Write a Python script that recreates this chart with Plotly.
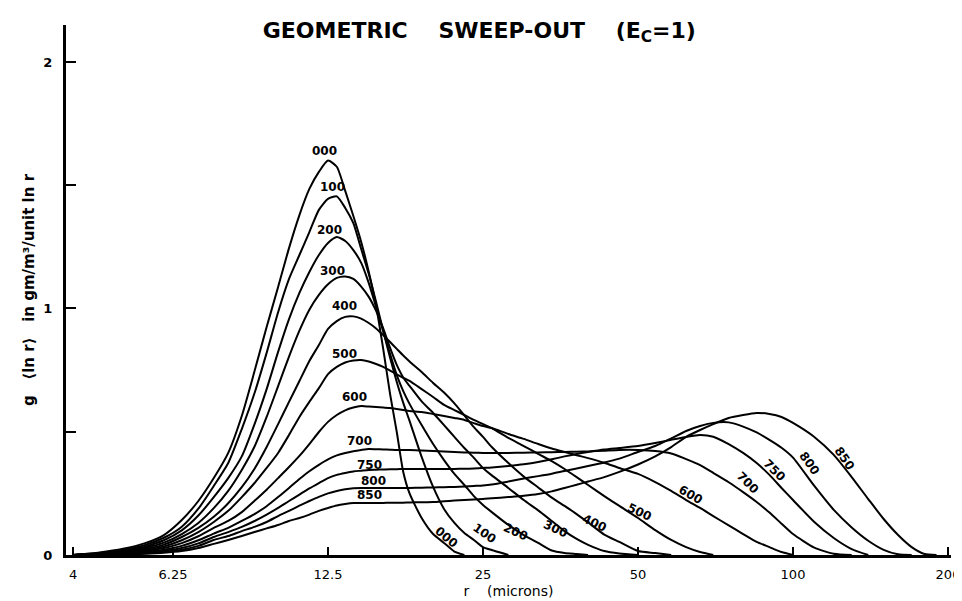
import math
import plotly.graph_objects as go

# radius grid (microns) shared by all curves; each curve is listed until it returns to zero
R = [4, 4.5, 5, 5.5, 6, 6.5, 7, 7.5, 8, 8.5, 9, 9.5, 10, 10.5, 11, 11.5, 12, 12.5, 13, 13.5,
     14, 14.5, 15, 15.5, 16, 16.5, 17, 17.5, 18, 19, 20, 21, 22, 23, 24, 25, 26, 28, 30, 32,
     34, 36, 38, 40, 43, 46, 50, 54, 58, 62, 66, 70, 75, 80, 85, 90, 95, 100, 110, 120, 130,
     140, 150, 160, 170, 180, 190]

G000 = [0, 0.010, 0.025, 0.047, 0.081, 0.142, 0.219, 0.312, 0.414, 0.564, 0.746, 0.925, 1.087,
        1.245, 1.379, 1.485, 1.554, 1.600, 1.575, 1.477, 1.375, 1.270, 1.148, 1.010, 0.836,
        0.653, 0.499, 0.337, 0.250, 0.150, 0.085, 0.049, 0.014, 0.0]
G100 = [0, 0.008, 0.021, 0.040, 0.070, 0.115, 0.188, 0.280, 0.373, 0.511, 0.657, 0.820, 0.985,
        1.120, 1.217, 1.310, 1.400, 1.445, 1.455, 1.408, 1.346, 1.241, 1.140, 1.026, 0.909,
        0.800, 0.702, 0.617, 0.544, 0.398, 0.276, 0.187, 0.130, 0.089, 0.061, 0.032, 0.020, 0.0]
G200 = [0, 0.006, 0.017, 0.034, 0.060, 0.100, 0.160, 0.235, 0.312, 0.400, 0.531, 0.673, 0.824,
        0.957, 1.063, 1.148, 1.217, 1.266, 1.290, 1.274, 1.237, 1.185, 1.103, 1.006, 0.909,
        0.815, 0.730, 0.665, 0.613, 0.527, 0.450, 0.385, 0.329, 0.284, 0.239, 0.203, 0.174,
        0.122, 0.081, 0.049, 0.018, 0.008, 0.004, 0.0]
G300 = [0, 0.005, 0.014, 0.028, 0.050, 0.085, 0.130, 0.190, 0.260, 0.345, 0.440, 0.560, 0.685,
        0.805, 0.910, 0.995, 1.055, 1.098, 1.124, 1.130, 1.120, 1.089, 1.047, 0.990, 0.919,
        0.840, 0.771, 0.720, 0.686, 0.623, 0.576, 0.527, 0.479, 0.434, 0.394, 0.353, 0.323,
        0.272, 0.223, 0.181, 0.138, 0.097, 0.065, 0.041, 0.016, 0.006, 0.0]
G400 = [0, 0.004, 0.011, 0.023, 0.042, 0.073, 0.110, 0.155, 0.210, 0.275, 0.350, 0.438, 0.531,
        0.621, 0.706, 0.787, 0.852, 0.917, 0.949, 0.966, 0.968, 0.959, 0.941, 0.919, 0.892,
        0.864, 0.836, 0.809, 0.785, 0.742, 0.698, 0.659, 0.615, 0.566, 0.519, 0.479, 0.438,
        0.373, 0.318, 0.274, 0.233, 0.199, 0.166, 0.132, 0.083, 0.053, 0.016, 0.008, 0.0]
G500 = [0, 0.003, 0.009, 0.019, 0.035, 0.060, 0.093, 0.134, 0.179, 0.235, 0.292, 0.353, 0.414,
        0.487, 0.560, 0.621, 0.677, 0.734, 0.763, 0.781, 0.789, 0.791, 0.785, 0.775, 0.763,
        0.748, 0.733, 0.719, 0.706, 0.673, 0.641, 0.609, 0.588, 0.568, 0.548, 0.531, 0.515,
        0.475, 0.442, 0.410, 0.381, 0.349, 0.316, 0.284, 0.239, 0.199, 0.150, 0.101, 0.061,
        0.032, 0.012, 0.0]
G600 = [0, 0.002, 0.007, 0.015, 0.028, 0.048, 0.076, 0.110, 0.138, 0.174, 0.220, 0.265, 0.312,
        0.357, 0.402, 0.450, 0.499, 0.540, 0.568, 0.587, 0.598, 0.604, 0.602, 0.600, 0.598,
        0.596, 0.592, 0.588, 0.584, 0.580, 0.572, 0.564, 0.556, 0.548, 0.535, 0.523, 0.515,
        0.491, 0.471, 0.450, 0.432, 0.418, 0.405, 0.393, 0.374, 0.353, 0.329, 0.296, 0.260,
        0.223, 0.191, 0.158, 0.120, 0.085, 0.053, 0.032, 0.012, 0.0]
G700 = [0, 0.002, 0.005, 0.011, 0.021, 0.037, 0.060, 0.087, 0.110, 0.138, 0.166, 0.198, 0.235,
        0.272, 0.308, 0.340, 0.366, 0.388, 0.404, 0.414, 0.421, 0.426, 0.430, 0.429, 0.428,
        0.427, 0.426, 0.426, 0.426, 0.424, 0.422, 0.420, 0.418, 0.416, 0.415, 0.414, 0.414,
        0.414, 0.415, 0.416, 0.417, 0.418, 0.419, 0.420, 0.423, 0.426, 0.426, 0.422, 0.412,
        0.389, 0.365, 0.333, 0.295, 0.255, 0.215, 0.172, 0.127, 0.085, 0.030, 0.005, 0.0]
G750 = [0, 0.001, 0.004, 0.008, 0.016, 0.028, 0.047, 0.073, 0.093, 0.114, 0.138, 0.164, 0.191,
        0.219, 0.245, 0.270, 0.292, 0.312, 0.325, 0.333, 0.339, 0.342, 0.345, 0.346, 0.347,
        0.348, 0.348, 0.349, 0.349, 0.349, 0.349, 0.349, 0.349, 0.350, 0.351, 0.353, 0.355,
        0.361, 0.368, 0.377, 0.388, 0.400, 0.410, 0.418, 0.428, 0.434, 0.442, 0.454, 0.467,
        0.479, 0.487, 0.480, 0.450, 0.414, 0.373, 0.325, 0.272, 0.223, 0.134, 0.069, 0.024, 0.0]
G800 = [0, 0.001, 0.003, 0.006, 0.012, 0.021, 0.037, 0.061, 0.077, 0.097, 0.114, 0.134, 0.158,
        0.179, 0.200, 0.219, 0.236, 0.250, 0.260, 0.267, 0.271, 0.272, 0.272, 0.272, 0.272,
        0.272, 0.272, 0.272, 0.272, 0.273, 0.274, 0.275, 0.276, 0.278, 0.280, 0.282, 0.286,
        0.298, 0.310, 0.320, 0.330, 0.341, 0.351, 0.361, 0.375, 0.391, 0.418, 0.442, 0.473,
        0.503, 0.523, 0.536, 0.538, 0.521, 0.497, 0.467, 0.435, 0.395, 0.280, 0.183, 0.112,
        0.058, 0.021, 0.003, 0.0]
G850 = [0, 0.001, 0.002, 0.005, 0.009, 0.016, 0.028, 0.045, 0.061, 0.077, 0.093, 0.108, 0.122,
        0.138, 0.150, 0.164, 0.179, 0.191, 0.201, 0.207, 0.211, 0.211, 0.211, 0.211, 0.211,
        0.212, 0.212, 0.212, 0.213, 0.214, 0.215, 0.218, 0.221, 0.223, 0.225, 0.227, 0.230,
        0.235, 0.240, 0.247, 0.258, 0.272, 0.285, 0.298, 0.316, 0.337, 0.367, 0.400, 0.438,
        0.479, 0.507, 0.531, 0.556, 0.568, 0.576, 0.572, 0.560, 0.536, 0.479, 0.406, 0.316,
        0.227, 0.146, 0.081, 0.032, 0.004, 0.0]

CURVE_NAMES = ["000", "100", "200", "300", "400", "500", "600", "700", "750", "800", "850"]
CURVES = [G000, G100, G200, G300, G400, G500, G600, G700, G750, G800, G850]

# curve labels near the main peak (horizontal) and on the right-hand tails (rotated)
TOP_LABEL_R = [12.33, 12.78, 12.61, 12.78, 13.48, 13.48, 14.10, 14.42, 15.08, 15.29, 15.08]
TOP_LABEL_G = [1.640, 1.493, 1.318, 1.152, 1.010, 0.815, 0.641, 0.462, 0.365, 0.300, 0.243]
TAIL_LABEL_R = [20.91, 24.78, 28.58, 34.18, 40.53, 49.56, 62.51, 80.67, 90.64, 106.0, 123.97]
TAIL_LABEL_G = [0.061, 0.077, 0.081, 0.093, 0.118, 0.162, 0.231, 0.280, 0.333, 0.361, 0.381]
TAIL_LABEL_ANGLE = [40, 35, 25, 25, 25, 25, 30, 45, 45, 55, 55]

X_TICKS = [4, 6.25, 12.5, 25, 50, 100, 200]
X_TICK_TEXT = ["4", "6.25", "12.5", "25", "50", "100", "200"]
Y_TICKS = [0, 1, 2]
Y_TICK_TEXT = ["<b>0</b>", "<b>1</b>", "<b>2</b>"]
Y_MINOR_TICKS = [0.5, 1.5]

FONT = "DejaVu Sans"
S = "\u00a0"

fig = go.Figure()
for name, g in zip(CURVE_NAMES, CURVES):
    fig.add_trace(go.Scatter(
        x=R[:len(g)], y=g, mode="lines", name=name,
        line=dict(color="black", width=2, shape="spline", smoothing=0.6),
        showlegend=False, hoverinfo="skip"))

ann = []
for name, r, g in zip(CURVE_NAMES, TOP_LABEL_R, TOP_LABEL_G):
    ann.append(dict(x=math.log10(r), y=g, xref="x", yref="y", text="<b>%s</b>" % name,
                    showarrow=False, font=dict(family=FONT, size=12, color="black")))
for name, r, g, a in zip(CURVE_NAMES, TAIL_LABEL_R, TAIL_LABEL_G, TAIL_LABEL_ANGLE):
    ann.append(dict(x=math.log10(r), y=g, xref="x", yref="y", text="<b>%s</b>" % name,
                    textangle=a, showarrow=False, xshift=3, yshift=3,
                    font=dict(family=FONT, size=12, color="black")))

fig.update_layout(
    width=962, height=601,
    margin=dict(l=58, r=19, t=17, b=54),
    paper_bgcolor="white", plot_bgcolor="white",
    annotations=ann,
    title=dict(text="<b>GEOMETRIC" + S * 4 + "SWEEP-OUT" + S * 4 + "(E<sub>C</sub>=1)</b>",
               x=0.467, xref="paper", xanchor="center",
               y=1 - 22 / 601, yref="container", yanchor="middle",
               font=dict(family=FONT, size=22, color="black")),
    xaxis=dict(type="log", range=[math.log10(3.873), math.log10(202.7)],
               tickvals=X_TICKS, ticktext=X_TICK_TEXT, ticks="inside", ticklen=8,
               tickwidth=2, tickcolor="black", showline=True, linewidth=3, linecolor="black",
               showgrid=False, zeroline=False, ticklabelstandoff=5, automargin=False,
               tickfont=dict(family=FONT, size=13, color="black"),
               title=dict(text="r" + S * 4 + "(microns)", standoff=6,
                          font=dict(family=FONT, size=14, color="black"))),
    yaxis=dict(range=[0, 2.15], tickvals=Y_TICKS, ticktext=Y_TICK_TEXT, ticks="inside",
               ticklen=10, tickwidth=2, tickcolor="black", showline=True, linewidth=3,
               linecolor="black", showgrid=False, zeroline=False, ticklabelstandoff=8,
               automargin=False,
               minor=dict(tickvals=Y_MINOR_TICKS, ticks="inside", ticklen=10, tickwidth=2,
                          tickcolor="black", showgrid=False),
               tickfont=dict(family=FONT, size=13, color="black"),
               title=dict(text="<b>g" + S * 3 + "\u27e8ln r\u27e9" + S * 3
                               + "in gm/m\u00b3/unit ln r</b>" + S * 13,
                          standoff=6, font=dict(family=FONT, size=15, color="black"))),
)

fig.write_html("out.html")
